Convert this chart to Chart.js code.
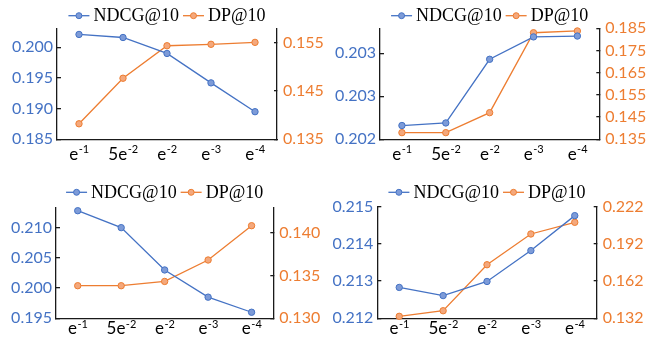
<!DOCTYPE html>
<html>
<head>
<meta charset="utf-8">
<script src="https://cdn.jsdelivr.net/npm/chart.js@4/dist/chart.umd.min.js"></script>
<style>
  html, body { margin: 0; padding: 0; background: #fff; }
  #wrap { position: relative; width: 659px; height: 337px; overflow: hidden; }
  canvas { position: absolute; }
</style>
</head>
<body>
<div id="wrap">
  <canvas id="c1" width="330" height="168" style="left:0;top:0"></canvas>
  <canvas id="c2" width="329" height="168" style="left:330px;top:0"></canvas>
  <canvas id="c3" width="330" height="169" style="left:0;top:168px"></canvas>
  <canvas id="c4" width="329" height="169" style="left:330px;top:168px"></canvas>
</div>
<script>
// ---- data ----
const categories = ['e^-1', '5e^-2', 'e^-2', 'e^-3', 'e^-4'];
const seriesNames = ['NDCG@10', 'DP@10'];

const ndcg1 = [0.2021, 0.2016, 0.1990, 0.1942, 0.1895];
const dp1   = [0.1382, 0.1476, 0.1543, 0.1546, 0.1550];
const ndcg2 = [0.20216, 0.20219, 0.20293, 0.20319, 0.20320];
const dp2   = [0.1380, 0.1380, 0.1470, 0.1830, 0.1838];
const ndcg3 = [0.2128, 0.2100, 0.2030, 0.1985, 0.1960];
const dp3   = [0.1338, 0.1338, 0.1343, 0.1368, 0.1408];
const ndcg4 = [0.21283, 0.21261, 0.21299, 0.21382, 0.21476];
const dp4   = [0.1336, 0.1381, 0.1752, 0.2000, 0.2094];

const leftTicks1  = [0.185, 0.190, 0.195, 0.200];
const leftLabels1 = ['0.185', '0.190', '0.195', '0.200'];
const rightTicks1 = [0.135, 0.145, 0.155];
const rightLabels1 = ['0.135', '0.145', '0.155'];

const leftTicks2  = [0.2020, 0.2025, 0.2030];
const leftLabels2 = ['0.202', '0.203', '0.203'];
const rightTicks2 = [0.135, 0.145, 0.155, 0.165, 0.175, 0.185];
const rightLabels2 = ['0.135', '0.145', '0.155', '0.165', '0.175', '0.185'];

const leftTicks3  = [0.195, 0.200, 0.205, 0.210];
const leftLabels3 = ['0.195', '0.200', '0.205', '0.210'];
const rightTicks3 = [0.130, 0.135, 0.140];
const rightLabels3 = ['0.130', '0.135', '0.140'];

const leftTicks4  = [0.212, 0.213, 0.214, 0.215];
const leftLabels4 = ['0.212', '0.213', '0.214', '0.215'];
const rightTicks4 = [0.132, 0.162, 0.192, 0.222];
const rightLabels4 = ['0.132', '0.162', '0.192', '0.222'];

// ---- style ----
const BLUE = '#4472C4', BLUE_FILL = '#7d9bd8';
const ORANGE = '#ED7D31', ORANGE_FILL = '#f4a87c';
const AXIS = '#1a1a1a';
const TICK_FONT = { family: 'Lato, "Liberation Sans", sans-serif', size: 16 };

const legendPlugin = {
  id: 'lineMarkerLegend',
  afterDraw(chart, args, opts) {
    const ctx = chart.ctx;
    const ca = chart.chartArea;
    ctx.save();
    ctx.font = '18px "Liberation Serif", "Times New Roman", serif';
    ctx.textBaseline = 'middle';
    const lineLen = 21, gapText = 4, gapItem = 4;
    const items = chart.data.datasets.map(d => ({ text: d.label, color: d.borderColor, fill: d.backgroundColor }));
    let total = 0;
    items.forEach((it, i) => { it.w = ctx.measureText(it.text).width; total += lineLen + gapText + it.w + (i ? gapItem : 0); });
    let x = (ca.left + ca.right) / 2 - total / 2;
    const y = opts.y;
    items.forEach((it, i) => {
      if (i) x += gapItem;
      ctx.strokeStyle = it.color; ctx.lineWidth = 1.3;
      ctx.beginPath(); ctx.moveTo(x, y); ctx.lineTo(x + lineLen, y); ctx.stroke();
      ctx.beginPath(); ctx.arc(x + lineLen / 2, y, 3, 0, Math.PI * 2);
      ctx.fillStyle = it.fill; ctx.fill(); ctx.lineWidth = 1; ctx.stroke();
      x += lineLen + gapText;
      ctx.fillStyle = '#000'; ctx.textAlign = 'left';
      ctx.fillText(it.text, x, y + 1);
      x += it.w;
    });
    ctx.restore();
  }
};

const xLabelPlugin = {
  id: 'supLabels',
  afterDraw(chart, args, opts) {
    const ctx = chart.ctx;
    const xs = chart.scales.x;
    const ca = chart.chartArea;
    ctx.save();
    ctx.fillStyle = '#000';
    ctx.textBaseline = 'alphabetic';
    ctx.textAlign = 'left';
    const baseFont = '17px Lato, "Liberation Sans", sans-serif';
    const supFont = '11px Lato, "Liberation Sans", sans-serif';
    chart.data.labels.forEach((lab, i) => {
      const parts = lab.split('^');
      ctx.font = baseFont; const wb = ctx.measureText(parts[0]).width;
      ctx.font = supFont; const ws = ctx.measureText(parts[1]).width;
      const cx = xs.getPixelForValue(i);
      let x = cx - (wb + ws) / 2;
      const yb = ca.bottom + opts.offset;
      ctx.font = baseFont; ctx.fillText(parts[0], x, yb);
      ctx.font = supFont; ctx.fillText(parts[1], x + wb + 0.5, yb - 6.5);
    });
    ctx.restore();
  }
};

function makeChart(id, cfg) {
  const el = document.getElementById(id);
  const H = el.height, W = el.width;
  const ds = (label, data, color, fill, axis) => ({
    label, data, yAxisID: axis,
    borderColor: color, backgroundColor: fill,
    borderWidth: 1.3, pointRadius: 3.2, pointHoverRadius: 3.2,
    pointBorderWidth: 1, pointBackgroundColor: fill, pointBorderColor: color,
    tension: 0, clip: false
  });
  const yAxis = (pos, min, max, ticks, labels, color, tl, pad, width) => ({
    type: 'linear', position: pos, min, max,
    afterBuildTicks: s => { s.ticks = ticks.map(v => ({ value: v })); },
    afterFit: s => { s.width = width; },
    ticks: {
      color, font: TICK_FONT, padding: pad,
      callback: (v) => { const k = ticks.findIndex(t => Math.abs(t - v) < 1e-9); return k >= 0 ? labels[k] : ''; }
    },
    grid: { drawOnChartArea: false, drawTicks: true, tickLength: tl, color: AXIS, lineWidth: 1.3 },
    border: { display: true, color: AXIS, width: 1.3 }
  });
  return new Chart(el, {
    type: 'line',
    data: {
      labels: categories,
      datasets: [
        ds(seriesNames[0], cfg.ndcg, BLUE, BLUE_FILL, 'y'),
        ds(seriesNames[1], cfg.dp, ORANGE, ORANGE_FILL, 'y1')
      ]
    },
    options: {
      responsive: false, animation: false, devicePixelRatio: 1,
      layout: { padding: { top: cfg.top, left: 0, right: 0, bottom: 0 } },
      plugins: { legend: { display: false }, tooltip: { enabled: false },
        lineMarkerLegend: { y: cfg.legendY }, supLabels: { offset: cfg.labelOffset } },
      scales: {
        x: {
          type: 'category', offset: true,
          ticks: { display: false },
          grid: { display: false },
          border: { display: true, color: AXIS, width: 1.3 },
          afterFit: s => { s.height = H - cfg.bottom; }
        },
        y: yAxis('left', cfg.lmin, cfg.lmax, cfg.lt, cfg.ll, BLUE, -4, 8, cfg.L),
        y1: yAxis('right', cfg.rmin, cfg.rmax, cfg.rt, cfg.rl, ORANGE, -3, 9, W - cfg.R)
      }
    },
    plugins: [legendPlugin, xLabelPlugin]
  });
}

makeChart('c1', { ndcg: ndcg1, dp: dp1, top: 28.3, bottom: 139.3, L: 57, R: 277, legendY: 15.7, labelOffset: 20.5,
  lmin: 0.185, lmax: 0.2031, lt: leftTicks1, ll: leftLabels1,
  rmin: 0.135, rmax: 0.1579, rt: rightTicks1, rl: rightLabels1 });
makeChart('c2', { ndcg: ndcg2, dp: dp2, top: 28.3, bottom: 139.3, L: 50, R: 269.3, legendY: 15.7, labelOffset: 20.5,
  lmin: 0.2020, lmax: 0.20329, lt: leftTicks2, ll: leftLabels2,
  rmin: 0.135, rmax: 0.185, rt: rightTicks2, rl: rightLabels2 });
makeChart('c3', { ndcg: ndcg3, dp: dp3, top: 39.7, bottom: 150.3, L: 56, R: 273.3, legendY: 24.3, labelOffset: 16,
  lmin: 0.195, lmax: 0.2133, lt: leftTicks3, ll: leftLabels3,
  rmin: 0.130, rmax: 0.1429, rt: rightTicks3, rl: rightLabels3 });
makeChart('c4', { ndcg: ndcg4, dp: dp4, top: 38.7, bottom: 150.3, L: 47.3, R: 266.7, legendY: 24.3, labelOffset: 16,
  lmin: 0.212, lmax: 0.215, lt: leftTicks4, ll: leftLabels4,
  rmin: 0.132, rmax: 0.222, rt: rightTicks4, rl: rightLabels4 });
</script>
</body>
</html>
